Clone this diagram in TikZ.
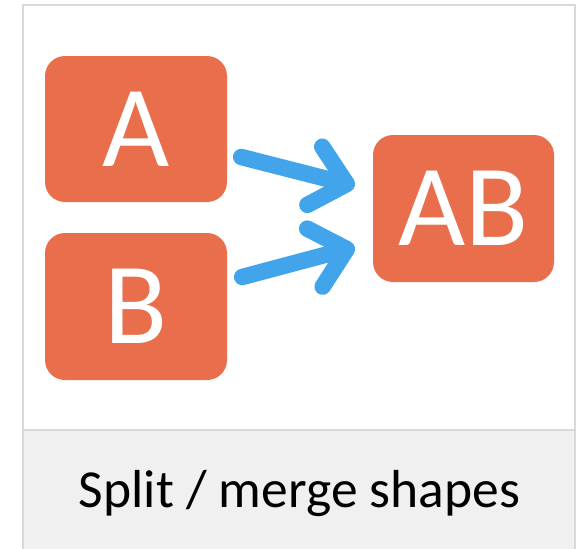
\documentclass[tikz,border=0pt]{standalone}
\usepackage{fontspec}
\setmainfont{Carlito}
\usetikzlibrary{arrows.meta,calc}
\definecolor{boxorange}{RGB}{233,110,75}
\definecolor{arrowblue}{RGB}{66,165,235}
\definecolor{framegrey}{RGB}{217,217,217}
\definecolor{bandgrey}{RGB}{240,240,240}
\tikzset{
  shapebox/.style={fill=boxorange, rounded corners=20pt, inner sep=0pt,
    text=white, font=\fontsize{116}{116}\selectfont, minimum height=146pt},
  mergearrow/.style={draw=arrowblue, line width=16.5pt, line cap=round, line join=round,
    -{Straight Barb[length=33pt,width=60pt,round]}},
}
\begin{document}
\begin{tikzpicture}[x=1pt,y=-1pt]
\useasboundingbox (0,0) rectangle (587,549);
\fill[white] (0,0) rectangle (587,549);
% frame
\fill[bandgrey] (23,430) rectangle (575,549);
\draw[framegrey, line width=1.2pt] (23,549) -- (23,5) -- (575,5) -- (575,549);
\draw[framegrey, line width=1.2pt] (23,430) -- (575,430);
% boxes
\node[shapebox, minimum width=182pt] (A) at (136,129) {\raisebox{-2.5pt}{A}};
\node[shapebox, minimum width=182pt, minimum height=147pt] (B) at (136,306.5) {\raisebox{-2.5pt}{B}};
\node[shapebox, minimum width=181pt, minimum height=147pt] (AB) at (463.5,208.5) {\raisebox{-2pt}{AB}};
% arrows
\draw[mergearrow] ($(A.east)+(14,28)$) -- ($(AB.west)+(-18,-22.5)$);
\draw[mergearrow] ($(B.east)+(15,-29.5)$) -- ($(AB.west)+(-18,38.5)$);
% title
\node[anchor=base, font=\fontsize{53.5}{53.5}\selectfont, inner sep=0pt] (title) at (299.5,507) {Split / merge shapes};
\end{tikzpicture}
\end{document}
